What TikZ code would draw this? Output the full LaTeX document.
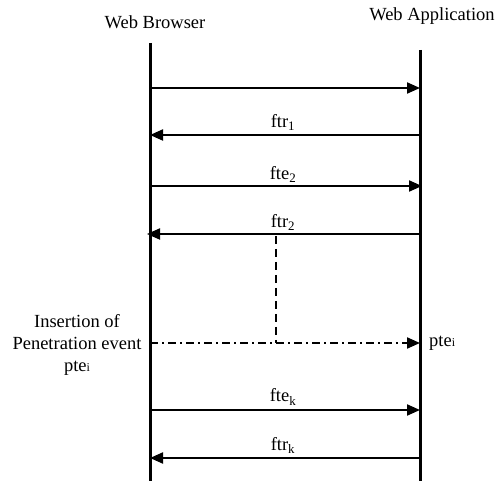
\documentclass[tikz,border=0pt]{standalone}
\usepackage{fontspec}
\setmainfont{Liberation Serif}
\usetikzlibrary{arrows.meta}
\begin{document}
\begin{tikzpicture}[x=1pt,y=-1pt,
  lifeline/.style={line width=3pt},
  msg/.style={line width=2pt,-{Triangle[length=13pt,width=11pt]}},
  lbl/.style={font=\fontsize{18.5}{22}\selectfont,inner sep=1pt},
  dashv/.style={line width=2pt,dash pattern=on 8pt off 5pt},
  dashdotmsg/.style={line width=2pt,dash pattern=on 8pt off 4pt on 2pt off 4pt,-{Triangle[length=13pt,width=11pt]}}]
\useasboundingbox (0,0) rectangle (496,481);
% headers
\node[lbl] (wb) at (155,22) {Web Browser};
\node[lbl] (wa) at (432,16) {Web Application};
% lifelines
\coordinate (Ltop) at (150,43);
\coordinate (Lbot) at (150,482);
\coordinate (Rtop) at (420,50);
\coordinate (Rbot) at (420,482);
\draw[lifeline] (Ltop) -- (Lbot);
\draw[lifeline] (Rtop) -- (Rbot);
% message endpoints
\coordinate (L1) at (150,88);  \coordinate (R1) at (420,88);
\coordinate (L2) at (150,135); \coordinate (R2) at (420,135);
\coordinate (L3) at (150,186); \coordinate (R3) at (422,186);
\coordinate (L4) at (147,234); \coordinate (R4) at (420,234);
\coordinate (L5) at (150,343); \coordinate (R5) at (420,343);
\coordinate (L6) at (150,410); \coordinate (R6) at (420,410);
\coordinate (L7) at (150,458); \coordinate (R7) at (420,458);
\draw[msg] (L1) -- (R1);
\draw[msg] (R2) -- (L2);
\draw[msg] (L3) -- (R3);
\draw[msg] (R4) -- (L4);
\draw[dashdotmsg] (L5) -- (R5);
\draw[msg] (L6) -- (R6);
\draw[msg] (R7) -- (L7);
% dashed vertical
\coordinate (Dtop) at (276,236);
\coordinate (Dbot) at (276,343);
\draw[dashv] (Dtop) -- (Dbot);
% labels
\node[lbl,anchor=base] (m2) at (283,128) {ftr\textsubscript{1}};
\node[lbl,anchor=base] (m3) at (283,180) {fte\textsubscript{2}};
\node[lbl,anchor=base] (m4) at (283,228) {ftr\textsubscript{2}};
\node[lbl,anchor=base] (m6) at (283,402) {fte\textsubscript{k}};
\node[lbl,anchor=base] (m7) at (283,450) {ftr\textsubscript{k}};
\node[lbl,anchor=west] (pr) at (428,343) {pte{\fontsize{12}{14}\selectfont i}};
\node[lbl,align=center] (ins) at (77,345) {Insertion of\\Penetration event\\pte{\fontsize{12}{14}\selectfont i}};
\end{tikzpicture}
\end{document}
